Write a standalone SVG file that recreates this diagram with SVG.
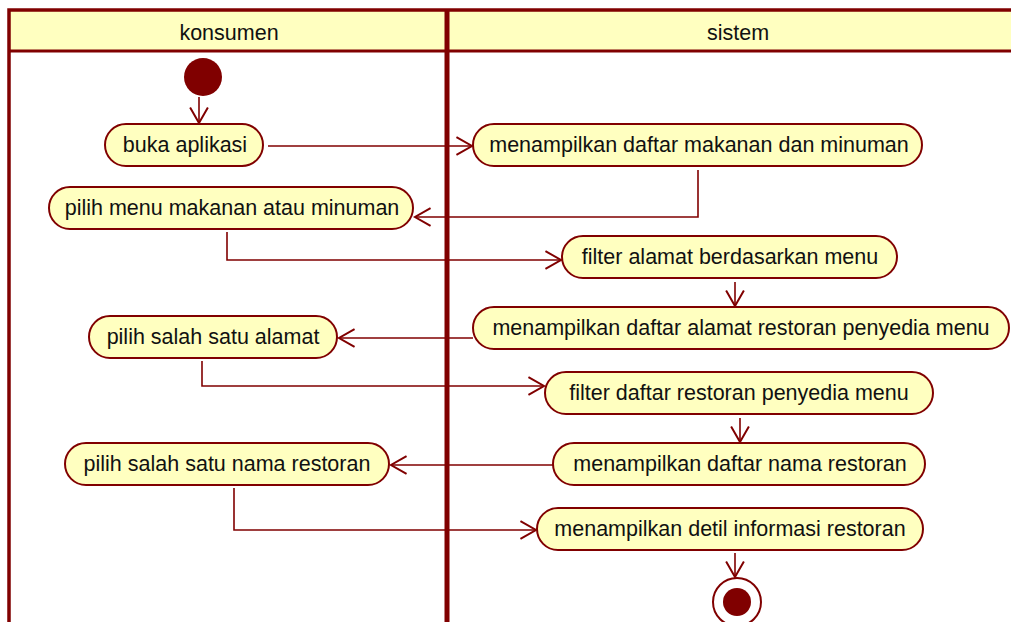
<svg xmlns="http://www.w3.org/2000/svg" width="1011" height="622" viewBox="0 0 1011 622">
<style>
.node rect{fill:#FFFFC0;stroke:#800000;stroke-width:2}
text{font-family:"Liberation Sans",Arial,sans-serif;font-size:21.5px;fill:#111;text-anchor:middle;dominant-baseline:central}
.conn path{fill:none;stroke:#800000;stroke-width:1.6;marker-end:url(#arr)}
.lane{fill:none;stroke:#800000}
</style>
<defs>
<marker id="arr" markerUnits="userSpaceOnUse" markerWidth="20" markerHeight="20" viewBox="-14 -9 16 18" refX="0" refY="0" orient="auto">
<path d="M-14,-8 L0,0 L-14,8" fill="none" stroke="#800000" stroke-width="1.8"/>
</marker>
</defs>
<rect x="0" y="0" width="1011" height="622" fill="#fff"/>
<g id="swimlanes">
<rect x="9" y="10" width="1010" height="41" fill="#FFFFC0"/>
<path class="lane" d="M9,622 V10 H1011" stroke-width="3.5"/>
<path class="lane" d="M9,51 H1011" stroke-width="3"/>
<path class="lane" d="M447,10 V622" stroke-width="5"/>
<text x="229" y="33">konsumen</text>
<text x="738" y="33">sistem</text>
</g>
<g id="start"><circle cx="203" cy="77" r="19" fill="#800000"/></g>
<g id="buka" class="node"><rect x="105" y="124" width="158" height="42" rx="21"/><text x="185" y="145">buka aplikasi</text></g>
<g id="tampil-daftar-makanan" class="node"><rect x="473" y="124" width="449" height="42" rx="21"/><text x="699" y="145">menampilkan daftar makanan dan minuman</text></g>
<g id="pilih-menu" class="node"><rect x="49" y="187" width="364" height="42" rx="21"/><text x="232" y="208">pilih menu makanan atau minuman</text></g>
<g id="filter-alamat" class="node"><rect x="562" y="236" width="335" height="42" rx="21"/><text x="730" y="257">filter alamat berdasarkan menu</text></g>
<g id="tampil-alamat" class="node"><rect x="473" y="307" width="536" height="42" rx="21"/><text x="741" y="328">menampilkan daftar alamat restoran penyedia menu</text></g>
<g id="pilih-alamat" class="node"><rect x="89" y="316" width="248" height="42" rx="21"/><text x="213" y="337">pilih salah satu alamat</text></g>
<g id="filter-restoran" class="node"><rect x="545" y="372" width="388" height="42" rx="21"/><text x="739" y="393">filter daftar restoran penyedia menu</text></g>
<g id="pilih-nama" class="node"><rect x="65" y="443" width="324" height="42" rx="21"/><text x="227" y="464">pilih salah satu nama restoran</text></g>
<g id="tampil-nama" class="node"><rect x="553" y="443" width="372" height="42" rx="21"/><text x="740" y="464">menampilkan daftar nama restoran</text></g>
<g id="tampil-detil" class="node"><rect x="537" y="508" width="386" height="42" rx="21"/><text x="730" y="529">menampilkan detil informasi restoran</text></g>
<g id="end"><circle cx="737" cy="602" r="24" fill="#fff" stroke="#800000" stroke-width="2"/><circle cx="737" cy="602" r="14" fill="#800000"/></g>
<g id="connectors" class="conn">
<path d="M199,97 V123"/>
<path d="M268,146 H472"/>
<path d="M698,170 V217 H415"/>
<path d="M227,232 V260 H561"/>
<path d="M735,282 V306"/>
<path d="M473,338 H339"/>
<path d="M202,361 V386 H544"/>
<path d="M740,418 V442"/>
<path d="M553,465 H391"/>
<path d="M234,488 V530 H536"/>
<path d="M735,553 V577"/>
</g>
</svg>
